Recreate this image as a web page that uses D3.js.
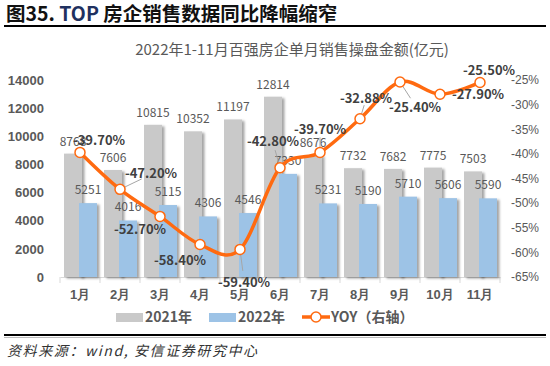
<!DOCTYPE html>
<html>
<head>
<meta charset="utf-8">
<script src="https://cdn.jsdelivr.net/npm/d3@7"></script>
<style>
  body { margin: 0; background: #fff; }
  svg { display: block; font-family: "Noto Sans CJK SC", "Noto Sans", sans-serif; }
</style>
</head>
<body>
<div id="chart"></div>
<script>
// data
var months = ["1月","2月","3月","4月","5月","6月","7月","8月","9月","10月","11月"];
var sales2021 = [8768, 7606, 10815, 10352, 11197, 12814, 8676, 7732, 7682, 7775, 7503];
var sales2022 = [5251, 4016, 5115, 4306, 4546, 7330, 5231, 5190, 5710, 5606, 5590];
var yoy = [-39.70, -47.20, -52.70, -58.40, -59.40, -42.80, -39.70, -32.88, -25.40, -27.90, -25.50];
var leftTicks = [0, 2000, 4000, 6000, 8000, 10000, 12000, 14000];
var rightTicks = [-65, -60, -55, -50, -45, -40, -35, -30, -25];

// where excel put the yoy labels, relative to the marker [dx, dy, leader]
var yoyLabelPos = [[19,-12,0],[31,-16,1],[-20,13,0],[-20,16,0],[4,33,1],[-7,-27,1],
                   [0,-23,1],[6,-21,1],[15,25,1],[38,0,0],[9,-12,0]];

var W = 550, H = 366;
var svg = d3.select("#chart").append("svg")
    .attr("width", W).attr("height", H);

var defs = svg.append("defs");
var f = defs.append("filter").attr("id", "shadow")
    .attr("x", "-20%").attr("y", "-5%").attr("width", "160%").attr("height", "115%");
f.append("feDropShadow").attr("dx", 2.5).attr("dy", 1.5)
    .attr("stdDeviation", 1.2).attr("flood-color", "#000").attr("flood-opacity", 0.35);

// header
var head = svg.append("text").attr("x", 6).attr("y", 21)
    .style("font-size", "19.5px").style("font-weight", "bold").attr("fill", "#111");
head.append("tspan").text("图35. ");
head.append("tspan").attr("fill", "#1f3160").text("TOP ");
head.append("tspan").text("房企销售数据同比降幅缩窄");
svg.append("line").attr("x1", 4).attr("x2", 546).attr("y1", 26).attr("y2", 26)
    .attr("stroke", "#000").attr("stroke-width", 2);

svg.append("text").attr("x", 292).attr("y", 55).attr("text-anchor", "middle")
    .style("font-size", "15px").attr("fill", "#595959")
    .text("2022年1-11月百强房企单月销售操盘金额(亿元)");

// scales
var x = d3.scaleBand().domain(months).range([60, 500]);
var y = d3.scaleLinear().domain([0, 14000]).range([277, 80]);
var y2 = d3.scaleLinear().domain([-65, -25]).range([277, 80]);
var barW = 18;

// axes
var xAxis = svg.append("g").attr("transform", "translate(0,277)")
    .call(d3.axisBottom(x).tickSize(0).tickPadding(13));
xAxis.select(".domain").attr("stroke", "#d9d9d9");
xAxis.selectAll("text").style("font-size", "13px").style("font-weight", "bold")
    .attr("fill", "#595959").style("font-family", "inherit");
svg.append("g").selectAll("line").data(d3.range(months.length + 1)).enter().append("line")
    .attr("x1", function(i) { return 60 + i * x.bandwidth(); })
    .attr("x2", function(i) { return 60 + i * x.bandwidth(); })
    .attr("y1", 277).attr("y2", 283).attr("stroke", "#d9d9d9");

var yAxis = svg.append("g").attr("transform", "translate(44,0)")
    .call(d3.axisLeft(y).tickValues(leftTicks).tickSize(0).tickPadding(0)
      .tickFormat(d3.format("d")));
yAxis.select(".domain").remove();
yAxis.selectAll("text").style("font-size", "13px").style("font-weight", "bold")
    .attr("fill", "#595959").style("font-family", "inherit");

var y2Axis = svg.append("g").attr("transform", "translate(511,0)")
    .call(d3.axisRight(y2).tickValues(rightTicks).tickSize(0).tickPadding(0)
      .tickFormat(function(d) { return d + "%"; }));
y2Axis.select(".domain").remove();
y2Axis.selectAll("text").style("font-size", "12px")
    .attr("fill", "#595959").style("font-family", "inherit");

// bars
svg.append("g").selectAll("rect").data(sales2021).enter().append("rect")
    .attr("x", function(d, i) { return x(months[i]) + 4; })
    .attr("width", barW)
    .attr("y", function(d) { return y(d); })
    .attr("height", function(d) { return y(0) - y(d); })
    .attr("fill", "#c9c9c9").attr("filter", "url(#shadow)");

svg.append("g").selectAll("rect").data(sales2022).enter().append("rect")
    .attr("x", function(d, i) { return x(months[i]) + 19; })
    .attr("width", barW)
    .attr("y", function(d) { return y(d); })
    .attr("height", function(d) { return y(0) - y(d); })
    .attr("fill", "#9dc3e6").attr("filter", "url(#shadow)");

// bar labels
svg.append("g").selectAll("text").data(sales2021).enter().append("text")
    .attr("x", function(d, i) { return x(months[i]) + 4 + barW / 2; })
    .attr("y", function(d) { return y(d) - 8; })
    .attr("text-anchor", "middle").style("font-size", "12px").attr("fill", "#595959")
    .text(function(d) { return d; });

svg.append("g").selectAll("text").data(sales2022).enter().append("text")
    .attr("x", function(d, i) { return x(months[i]) + 19 + barW / 2; })
    .attr("y", function(d) { return y(d) - 9; })
    .attr("text-anchor", "middle").style("font-size", "12px").attr("fill", "#595959")
    .text(function(d) { return d; });

// yoy line
var cx = function(i) { return x(months[i]) + x.bandwidth() / 2; };
var line = d3.line()
    .x(function(d, i) { return cx(i); })
    .y(function(d) { return y2(d); })
    .curve(d3.curveCardinal);

// leader lines
var leaders = d3.range(yoy.length).filter(function(i) { return yoyLabelPos[i][2]; });
svg.append("g").selectAll("line").data(leaders).enter().append("line")
    .attr("x1", function(i) { return cx(i); })
    .attr("y1", function(i) { return y2(yoy[i]); })
    .attr("x2", function(i) { return cx(i) + yoyLabelPos[i][0] * 0.7; })
    .attr("y2", function(i) { return y2(yoy[i]) + yoyLabelPos[i][1] * 0.65; })
    .attr("stroke", "#a6a6a6").attr("stroke-width", 1);

svg.append("path").datum(yoy)
    .attr("d", line).attr("fill", "none")
    .attr("stroke", "#ff6a10").attr("stroke-width", 3.5);

svg.append("g").selectAll("circle").data(yoy).enter().append("circle")
    .attr("cx", function(d, i) { return cx(i); })
    .attr("cy", function(d) { return y2(d); })
    .attr("r", 5).attr("fill", "#fff")
    .attr("stroke", "#ff6a10").attr("stroke-width", 1.5);

svg.append("g").selectAll("text").data(yoy).enter().append("text")
    .attr("x", function(d, i) { return cx(i) + yoyLabelPos[i][0]; })
    .attr("y", function(d, i) { return y2(d) + yoyLabelPos[i][1] + 5; })
    .attr("text-anchor", "middle").style("font-size", "13px").style("font-weight", "bold")
    .attr("fill", "#404040")
    .text(function(d) { return d.toFixed(2) + "%"; });

// legend
var lg = svg.append("g").attr("transform", "translate(0,317)");
lg.append("rect").attr("x", 116).attr("y", -4).attr("width", 27).attr("height", 9).attr("fill", "#c9c9c9");
lg.append("text").attr("x", 145).attr("y", 5).style("font-size", "14px").style("font-weight", "bold")
    .attr("fill", "#595959").text("2021年");
lg.append("rect").attr("x", 209).attr("y", -4).attr("width", 27).attr("height", 9).attr("fill", "#9dc3e6");
lg.append("text").attr("x", 238).attr("y", 5).style("font-size", "14px").style("font-weight", "bold")
    .attr("fill", "#595959").text("2022年");
lg.append("line").attr("x1", 302).attr("x2", 330).attr("y1", 0).attr("y2", 0)
    .attr("stroke", "#ff6a10").attr("stroke-width", 3.5);
lg.append("circle").attr("cx", 316).attr("cy", 0).attr("r", 5).attr("fill", "#fff")
    .attr("stroke", "#ff6a10").attr("stroke-width", 1.5);
lg.append("text").attr("x", 331).attr("y", 5).style("font-size", "14px").style("font-weight", "bold")
    .attr("fill", "#595959").text("YOY（右轴）");

// footer
svg.append("line").attr("x1", 4).attr("x2", 546).attr("y1", 335).attr("y2", 335)
    .attr("stroke", "#000").attr("stroke-width", 2);
svg.append("line").attr("x1", 4).attr("x2", 546).attr("y1", 337.5).attr("y2", 337.5)
    .attr("stroke", "#bbb").attr("stroke-width", 1);
svg.append("text").attr("x", 7).attr("y", 356)
    .style("font-size", "14px").style("font-style", "italic").style("letter-spacing", "1.6px")
    .attr("fill", "#333")
    .text("资料来源：wind, 安信证券研究中心");
</script>
</body>
</html>
